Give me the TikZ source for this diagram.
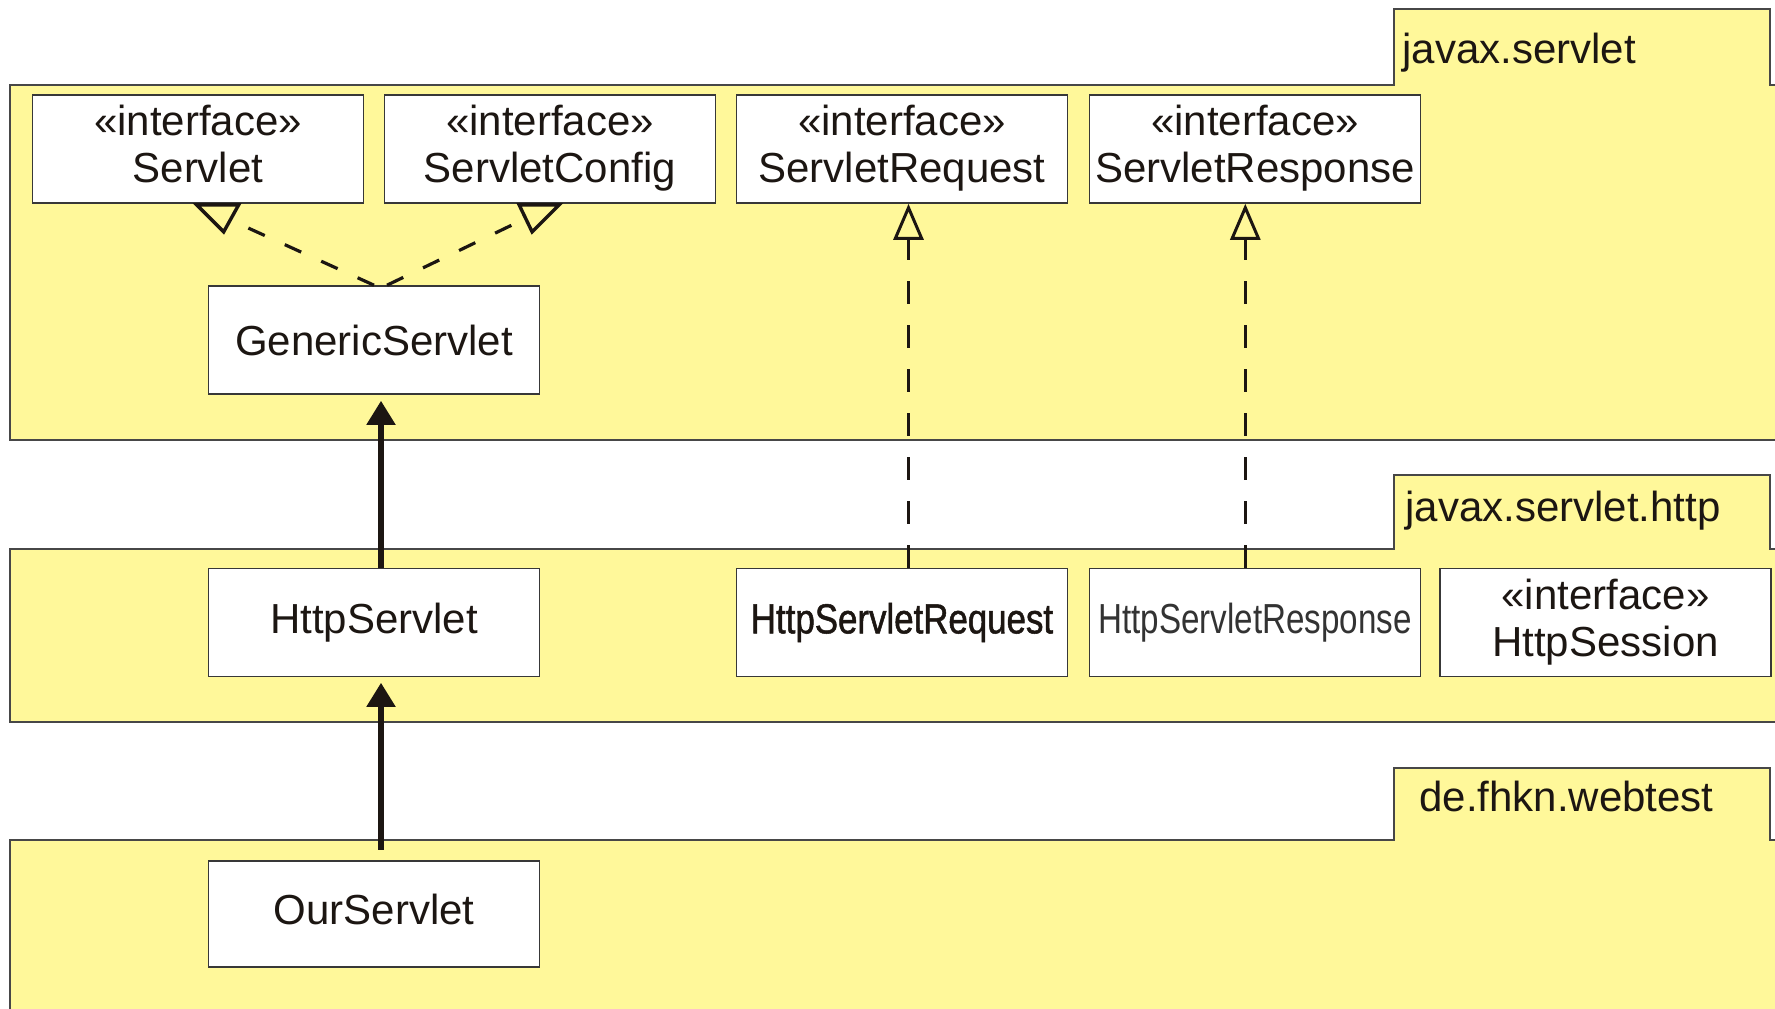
\documentclass[tikz,border=0pt]{standalone}
\usepackage{fontspec}
\setmainfont{Liberation Sans}
\newfontfamily\reqfont[FakeStretch=0.83,FakeBold=1.2]{Liberation Sans}
\newfontfamily\respfont[FakeStretch=0.79]{Liberation Sans}
\usetikzlibrary{arrows.meta,calc}
\definecolor{pkgyellow}{RGB}{255,248,154}
\definecolor{ink}{RGB}{28,22,18}
\newcommand\diafont{\fontsize{21}{23.5}\selectfont}
\begin{document}
\begin{tikzpicture}[x=0.5pt,y=-0.5pt,
  pkg/.style={fill=pkgyellow, draw=black!72, line width=1pt, line join=miter},
  pkglabel/.style={anchor=base west, inner sep=0pt, text=ink, font=\diafont},
  cls/.style={draw=black!78, fill=white, line width=0.8pt, minimum width=165.5pt,
    minimum height=54pt, inner sep=0pt, align=center, text=ink, font=\diafont},
  iface/.style={cls, text depth=5pt},
  gen/.style={draw=ink, line width=2.6pt, -{Triangle[width=14pt,length=12pt]}},
  real/.style={draw=ink, line width=1.5pt, dash pattern=on 11.5pt off 10.5pt,
    -{Triangle[open,width=15pt,length=18pt]}},
  reald/.style={draw=ink, line width=1.6pt, dash pattern=on 9pt off 11pt},
  tri/.style={draw=ink, line width=1.7pt, line join=miter}]
\clip (0,0) rectangle (1775,1008);
\fill[white] (0,0) rectangle (1775,1008);

% packages
\path[pkg] (10.3,440) -- (10.3,85) -- (1394,85) -- (1394,9.3) -- (1770.4,9.3)
  -- (1770.4,85) -- (1800,85) -- (1800,440) -- cycle;
\path[pkg] (10.3,721.8) -- (10.3,548.7) -- (1394,548.7) -- (1394,475) -- (1770.4,475)
  -- (1770.4,548.7) -- (1800,548.7) -- (1800,721.8) -- cycle;
\path[pkg] (10.3,1030) -- (10.3,839.6) -- (1394,839.6) -- (1394,768) -- (1770.4,768)
  -- (1770.4,839.6) -- (1800,839.6) -- (1800,1030) -- cycle;
\node[pkglabel] (lab1) at (1402,63) {javax.servlet};
\node[pkglabel] (lab2) at (1405,521.5) {javax.servlet.http};
\node[pkglabel] (lab3) at (1419,811) {de.fhkn.webtest};

% classes
\node[iface] (servlet) at (198,149) {«interface»\\Servlet};
\node[iface] (sconfig) at (550,149) {«interface»\\ServletConfig};
\node[iface] (sreq) at (902,149) {«interface»\\ServletRequest};
\node[iface] (sresp) at (1255,149) {«interface»\\ServletResponse};
\node[cls] (generic) at (374,340) {GenericServlet};
\node[cls] (hservlet) at (374,622.5) {HttpServlet};
\node[cls] (hreq) at (902,622.5) {\reqfont HttpServletRequest};
\node[cls] (hresp) at (1255,622.5) {\respfont\color{black!80}HttpServletResponse};
\node[iface] (hsession) at (1605.5,622.5) {«interface»\\HttpSession};
\node[cls, minimum height=53pt, text depth=4.5pt] (ours) at (374,914) {OurServlet};

% generalisations
\draw[gen, shorten >=3pt] ($(hservlet.north)+(7,0)$) -- ($(generic.south)+(7,0)$);
\draw[gen, shorten >=2.75pt] ($(ours.north)+(7,-10.5)$) -- ($(hservlet.south)+(7,0)$);

% realisations (vertical)
\draw[real] ($(hreq.north)+(6.5,0)$) -- ($(sreq.south)+(6.5,0)$);
\draw[real] ($(hresp.north)+(-9.7,0)$) -- ($(sresp.south)+(-9.7,0)$);

% realisations (diagonal)
\coordinate (e1) at (246,227);
\coordinate (e2) at (512,225);
\draw[reald] (generic.north) -- (e1);
\draw[reald] ($(generic.north)+(13,0)$) -- (e2);
\draw[tri] ($(servlet.south west)+(165,1)$) -- ($(servlet.south west)+(207,1)$)
  -- ($(servlet.south west)+(192,28)$) -- cycle;
\draw[tri] ($(sconfig.south west)+(135.4,1)$) -- ($(sconfig.south west)+(175.4,1)$)
  -- ($(sconfig.south west)+(148.4,28)$) -- cycle;
\end{tikzpicture}
\end{document}
